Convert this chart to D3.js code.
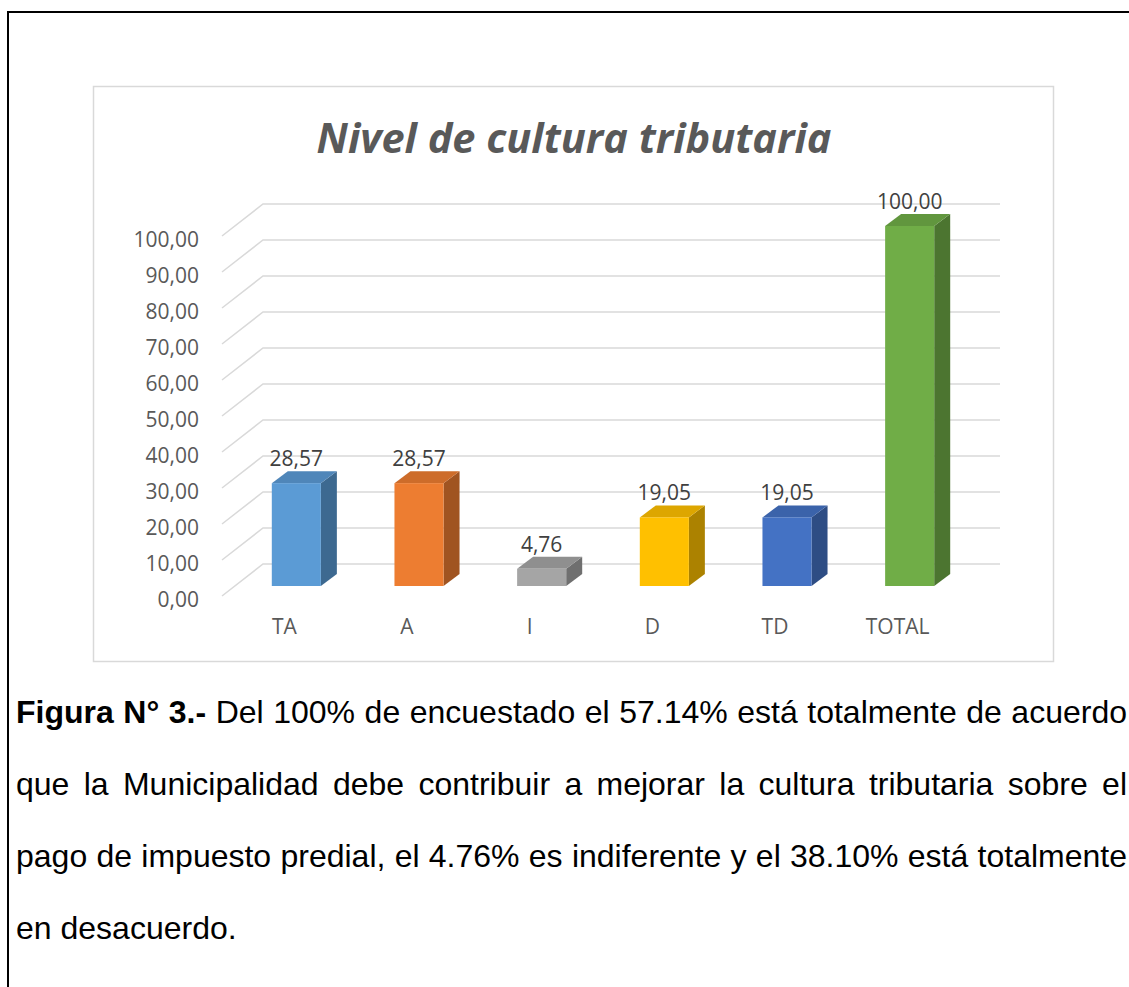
<!DOCTYPE html>
<html>
<head>
<meta charset="utf-8">
<script src="https://cdn.jsdelivr.net/npm/d3@7"></script>
<style>
  html, body { margin: 0; padding: 0; background: #fff; overflow: hidden; }
  svg { display: block; }
</style>
</head>
<body>
<svg id="chart" width="1129" height="987"></svg>
<script>
"use strict";

const categories = ['TA', 'A', 'I', 'D', 'TD', 'TOTAL'];
const values = [28.57, 28.57, 4.76, 19.05, 19.05, 100.00];
const barColors = ['#5b9bd5', '#ed7d31', '#a5a5a5', '#ffc000', '#4472c4', '#70ad47'];
const yTicks = [0, 10, 20, 30, 40, 50, 60, 70, 80, 90, 100];
const title = 'Nivel de cultura tributaria';

const captionBold = 'Figura N° 3.-';
const captionLines = [
    'Del 100% de encuestado el 57.14% está totalmente de acuerdo',
    'que la Municipalidad debe contribuir a mejorar la cultura tributaria sobre el',
    'pago de impuesto predial, el 4.76% es indiferente y el 38.10% está totalmente',
    'en desacuerdo.'
];

const fmt = d => d.toFixed(2).replace('.', ',');

const svg = d3.select('#chart');

// page border
svg.append('rect')
    .attr('x', 8).attr('y', 12)
    .attr('width', 1200).attr('height', 1100)
    .attr('fill', 'none')
    .attr('stroke', '#000')
    .attr('stroke-width', 2);

// chart area
svg.append('rect')
    .attr('x', 93.5).attr('y', 86.5)
    .attr('width', 960).attr('height', 575)
    .attr('fill', '#fff')
    .attr('stroke', '#d9d9d9')
    .attr('stroke-width', 1.5);

svg.append('text')
    .attr('x', 574).attr('y', 153)
    .attr('text-anchor', 'middle')
    .attr('font-family', 'Open Sans')
    .attr('font-weight', 'bold')
    .attr('font-style', 'italic')
    .attr('font-size', 41.5)
    .attr('fill', '#595959')
    .text(title);

// 3d geometry
const depth = {dx: 16, dy: -12};      // bar depth
const wall = {front: 222, back: 263, right: 1000};

const y = d3.scaleLinear().domain([0, 100]).range([586, 226]);
const yFront = v => y(v) + 10;
const yBack = v => y(v) - 22;

const x = d3.scaleBand()
    .domain(categories)
    .range([235, 971])
    .paddingInner(0.6)
    .paddingOuter(0.3);

// gridlines (floor edge + back wall)
const grid = svg.append('g').attr('fill', 'none').attr('stroke', '#d9d9d9').attr('stroke-width', 1.5);
yTicks.forEach(t => {
    grid.append('path')
        .attr('d', `M${wall.front},${yFront(t)}L${wall.back},${yBack(t)}H${wall.right}`);
});

// y tick labels
const yAxisScale = d3.scaleLinear().domain([0, 100]).range([yFront(0), yFront(100)]);
const yAxis = svg.append('g')
    .attr('transform', 'translate(207,0)')
    .call(d3.axisLeft(yAxisScale).tickValues(yTicks).tickFormat(fmt).tickSize(0).tickPadding(8));
yAxis.select('.domain').remove();
yAxis.selectAll('text')
    .attr('dy', '0.5em')
    .attr('font-family', 'Open Sans')
    .attr('font-size', 21)
    .attr('fill', '#595959');

// bars
const bars = svg.append('g')
    .selectAll('g')
    .data(categories.map((c, i) => ({cat: c, value: values[i], color: barColors[i]})))
    .join('g');

bars.append('path')   // side
    .attr('d', d => {
        const x1 = x(d.cat) + x.bandwidth();
        return `M${x1},${y(0)}L${x1 + depth.dx},${y(0) + depth.dy}L${x1 + depth.dx},${y(d.value) + depth.dy}L${x1},${y(d.value)}Z`;
    })
    .attr('fill', d => d3.color(d.color).darker(1.1));

bars.append('path')   // top
    .attr('d', d => {
        const x0 = x(d.cat), x1 = x0 + x.bandwidth(), yt = y(d.value);
        return `M${x0},${yt}L${x0 + depth.dx},${yt + depth.dy}L${x1 + depth.dx},${yt + depth.dy}L${x1},${yt}Z`;
    })
    .attr('fill', d => d3.color(d.color).darker(0.4));

bars.append('rect')   // front
    .attr('x', d => x(d.cat))
    .attr('y', d => y(d.value))
    .attr('width', x.bandwidth())
    .attr('height', d => y(0) - y(d.value))
    .attr('fill', d => d.color);

bars.append('text')
    .attr('x', d => x(d.cat) + x.bandwidth() / 2)
    .attr('y', d => y(d.value) + depth.dy - 5)
    .attr('text-anchor', 'middle')
    .attr('font-family', 'Open Sans')
    .attr('font-size', 21)
    .attr('fill', '#404040')
    .text(d => fmt(d.value));

// category labels
const xAxis = svg.append('g')
    .attr('transform', 'translate(-12,612)')
    .call(d3.axisBottom(x).tickSize(0).tickPadding(7));
xAxis.select('.domain').remove();
xAxis.selectAll('text')
    .attr('font-family', 'Open Sans')
    .attr('font-size', 21)
    .attr('fill', '#595959');

// caption, justified by hand
const cap = svg.append('g')
    .attr('font-family', 'Liberation Sans, Arial, sans-serif')
    .attr('font-size', 32)
    .attr('fill', '#000');

const left = 16, right = 1127, lineGap = 72, firstBaseline = 723;

const spaceW = (() => {
    const t = cap.append('text').text('a a');
    const t2 = cap.append('text').text('aa');
    const w = t.node().getComputedTextLength() - t2.node().getComputedTextLength();
    t.remove(); t2.remove();
    return w;
})();

captionLines.forEach((line, i) => {
    const words = line.split(' ').map(w => ({t: w, bold: false}));
    if (i === 0) words.unshift(...captionBold.split(' ').map(w => ({t: w, bold: true})));
    const yy = firstBaseline + i * lineGap;
    const nodes = words.map(w => cap.append('text')
        .attr('y', yy)
        .attr('font-weight', w.bold ? 'bold' : null)
        .text(w.t));
    const widths = nodes.map(n => n.node().getComputedTextLength());
    const total = d3.sum(widths);
    const justify = i < captionLines.length - 1;
    const gap = justify ? Math.max(spaceW, (right - left - total) / (words.length - 1)) : spaceW;
    let cx = left;
    nodes.forEach((n, k) => {
        n.attr('x', cx);
        cx += widths[k] + gap;
    });
});
</script>
</body>
</html>
